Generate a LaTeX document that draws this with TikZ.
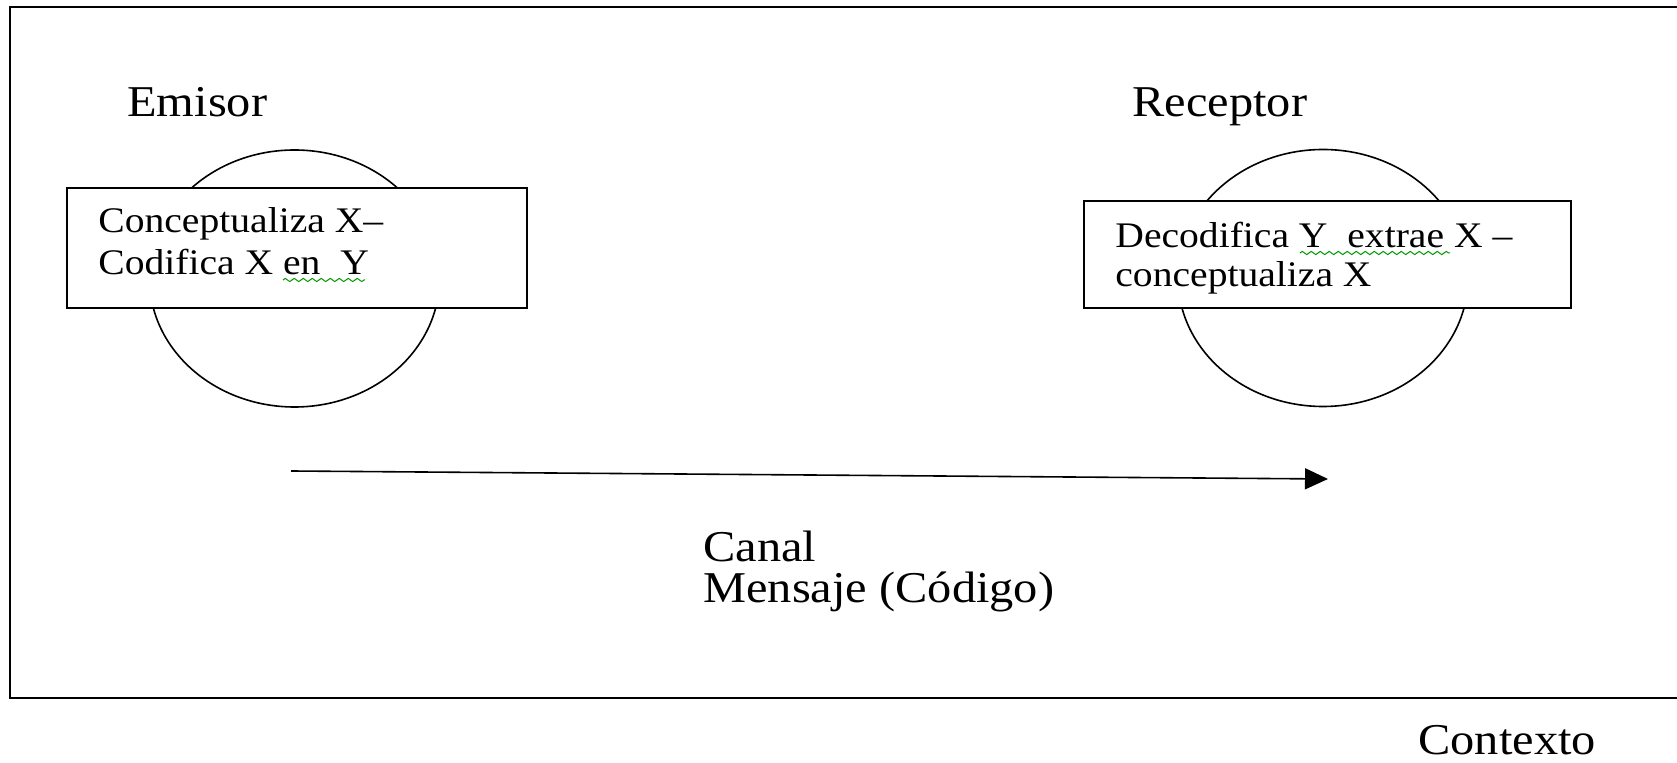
\documentclass[tikz,border=0pt]{standalone}
\usepackage{fontspec}
\setmainfont{Liberation Serif}[FakeStretch=1.1]
\usetikzlibrary{arrows.meta,decorations.pathmorphing,shapes.geometric}

\begin{document}
\begin{tikzpicture}[x=0.5pt,y=-0.5pt]
\tikzstyle{circulo} = [draw, line width=0.8pt, ellipse, minimum width=145pt, minimum height=128.5pt, inner sep=0]
\tikzstyle{caja} = [draw, line width=1pt, fill=white, rectangle, inner sep=0]
\tikzstyle{etiqueta} = [anchor=base west, inner sep=0, font=\fontsize{22}{26}\selectfont]
\tikzstyle{texto} = [anchor=base west, inner sep=0, font=\fontsize{18}{20}\selectfont]
\tikzstyle{subrayado} = [draw=green!60!black, line width=0.5pt, decorate, decoration={zigzag, segment length=4.5pt, amplitude=0.8pt}]

\useasboundingbox (0,0) rectangle (1677,763);

% Marco del contexto
\draw[line width=1.2pt] (1690,7) -- (10,7) -- (10,698) -- (1690,698);

% Circulos
\foreach \nombre/\x/\y in {emCirc/294.5/278.5, reCirc/1323/278} {
  \node[circulo] (\nombre) at (\x,\y) {};
}

% Cajas
\node[caja, minimum width=230pt, minimum height=60pt] (emCaja) at (297,248) {};
\node[caja, minimum width=243.5pt, minimum height=53.5pt] (reCaja) at (1327.5,254.5) {};

% Titulos
\node[etiqueta] (emisor) at (127,117) {Emisor};
\node[etiqueta] (receptor) at (1132,117) {Receptor};

% Texto de las cajas
\node[texto] (emL1) at (98,233) {Conceptualiza X–};
\node[texto] (emL2) at (98,275) {Codifica X en\ \ Y};
\node[texto] (reL1) at (1115,248) {Decodifica Y\ \ extrae X –};
\node[texto] (reL2) at (1115,287) {conceptualiza X};

% Subrayado del corrector
\draw[subrayado] (283,280) -- (365,280);
\draw[subrayado] (1300,253) -- (1450,253);

% Flecha del canal
\coordinate (canalIni) at (291,471);
\coordinate (canalFin) at (1328,479);
\draw[line width=0.8pt, -{Triangle[length=11.5pt, width=10.5pt]}] (canalIni) -- (canalFin);

\node[etiqueta] (canal) at (703,562) {Canal};
\node[etiqueta] (mensaje) at (703,603) {Mensaje (Código)};

\node[etiqueta] (contexto) at (1418,755) {Contexto};

\end{tikzpicture}
\end{document}
